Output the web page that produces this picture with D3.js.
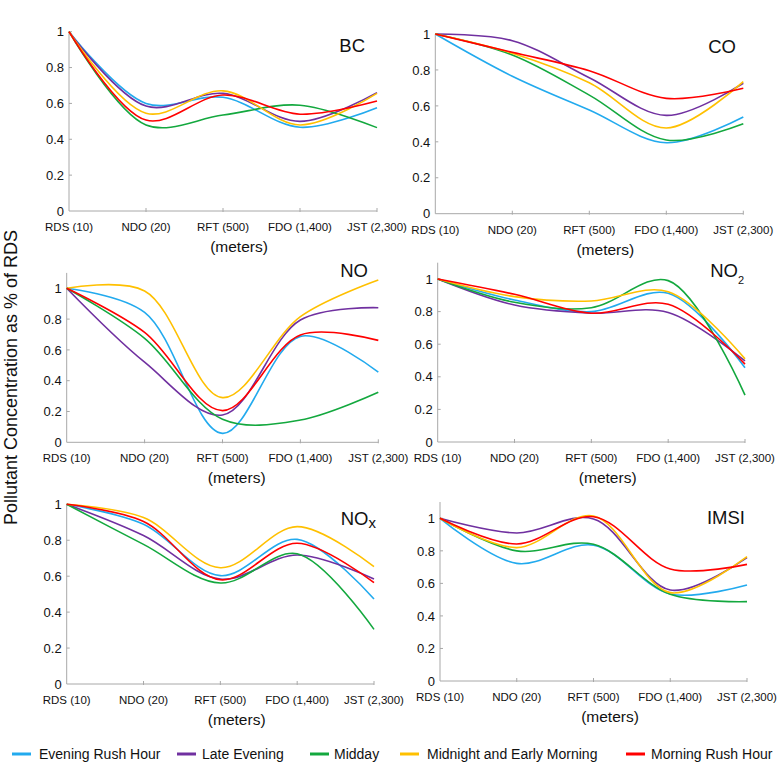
<!DOCTYPE html>
<html>
<head>
<meta charset="utf-8">
<script src="https://cdn.jsdelivr.net/npm/d3@7"></script>
<style>
  html, body { margin: 0; padding: 0; background: #fff; }
  svg { display: block; }
  text { font-family: "Liberation Sans", Arial, Helvetica, sans-serif; fill: #111; }
</style>
</head>
<body>
<svg id="chart" width="782" height="765"></svg>
<script>
// ---------------- DATA ----------------
const categories = ["RDS (10)", "NDO (20)", "RFT (500)", "FDO (1,400)", "JST (2,300)"];
const seriesNames = ["Evening Rush Hour", "Late Evening", "Midday", "Midnight and Early Morning", "Morning Rush Hour"];
const yTickValues = [0, 0.2, 0.4, 0.6, 0.8, 1];
const yTickLabels = ["0", "0.2", "0.4", "0.6", "0.8", "1"];
const xAxisTitle = "(meters)";
const yAxisTitle = "Pollutant Concentration as % of RDS";

// series order: Evening Rush Hour, Late Evening, Midday, Midnight and Early Morning, Morning Rush Hour
const bcValues = [
  [1, 0.600, 0.634, 0.467, 0.576],
  [1, 0.585, 0.656, 0.500, 0.660],
  [1, 0.480, 0.535, 0.590, 0.465],
  [1, 0.545, 0.670, 0.480, 0.656],
  [1, 0.507, 0.647, 0.540, 0.613]
];
const coValues = [
  [1, 0.765, 0.577, 0.395, 0.538],
  [1, 0.963, 0.757, 0.547, 0.726],
  [1, 0.883, 0.660, 0.410, 0.500],
  [1, 0.893, 0.729, 0.477, 0.735],
  [1, 0.898, 0.796, 0.642, 0.698]
];
const noValues = [
  [1, 0.844, 0.058, 0.688, 0.455],
  [1, 0.520, 0.177, 0.794, 0.874],
  [1, 0.675, 0.150, 0.145, 0.325],
  [1, 0.983, 0.290, 0.816, 1.054],
  [1, 0.714, 0.206, 0.697, 0.662]
];
const no2Values = [
  [1, 0.871, 0.800, 0.912, 0.456],
  [1, 0.840, 0.790, 0.795, 0.497],
  [1, 0.857, 0.824, 0.990, 0.288],
  [1, 0.892, 0.865, 0.922, 0.510],
  [1, 0.906, 0.790, 0.845, 0.478]
];
const noxValues = [
  [1, 0.889, 0.603, 0.805, 0.473],
  [1, 0.826, 0.584, 0.718, 0.584],
  [1, 0.777, 0.562, 0.725, 0.304],
  [1, 0.926, 0.647, 0.876, 0.653],
  [1, 0.904, 0.580, 0.783, 0.564]
];
const imsiValues = [
  [1, 0.723, 0.835, 0.535, 0.590],
  [1, 0.910, 0.996, 0.559, 0.758],
  [1, 0.800, 0.840, 0.533, 0.488],
  [1, 0.820, 1.014, 0.543, 0.764],
  [1, 0.842, 1.010, 0.689, 0.717]
];

// ---------------- STYLE / LAYOUT ----------------
const colors = ["#22aaee", "#7030a0", "#13a83e", "#ffc000", "#ff0000"];

const panels = [
  { title: "BC", sub: null, values: bcValues,
    x0: 69, x1: 377, yZero: 211, yOne: 31.7, yMax: 1.0, titleX: 365, titleY: 52 },
  { title: "CO", sub: null, values: coValues,
    x0: 435.3, x1: 743.3, yZero: 213.7, yOne: 34, yMax: 1.0, titleX: 736, titleY: 52.5 },
  { title: "NO", sub: null, values: noValues,
    x0: 66.7, x1: 378.3, yZero: 442.3, yOne: 288.3, yMax: 1.1, titleX: 368, titleY: 276.7 },
  { title: "NO", sub: "2", values: no2Values,
    x0: 437.7, x1: 745, yZero: 442, yOne: 279, yMax: 1.1, titleX: 744, titleY: 276.7 },
  { title: "NO", sub: "x", values: noxValues,
    x0: 66.7, x1: 374, yZero: 684, yOne: 504.3, yMax: 1.0, titleX: 376, titleY: 525 },
  { title: "IMSI", sub: null, values: imsiValues,
    x0: 440, x1: 747, yZero: 681, yOne: 518.3, yMax: 1.1, titleX: 745, titleY: 524.3 }
];

const svg = d3.select("#chart");
const axisColor = "#a8a8a8";

panels.forEach(p => {
  const x = d3.scalePoint().domain(categories).range([p.x0, p.x1]);
  const y = d3.scaleLinear().domain([0, 1]).range([p.yZero, p.yOne]);
  const g = svg.append("g");

  // axes lines
  g.append("line").attr("x1", p.x0).attr("x2", p.x0)
    .attr("y1", y(0)).attr("y2", y(p.yMax))
    .attr("stroke", axisColor).attr("stroke-width", 1);
  g.append("line").attr("x1", p.x0).attr("x2", p.x1)
    .attr("y1", y(0)).attr("y2", y(0))
    .attr("stroke", axisColor).attr("stroke-width", 1);

  // x ticks (inward) and labels
  categories.forEach((c, i) => {
    if (i > 0) {
      g.append("line").attr("x1", x(c)).attr("x2", x(c))
        .attr("y1", y(0) - 3).attr("y2", y(0) + 1)
        .attr("stroke", axisColor).attr("stroke-width", 1);
    }
    g.append("text").attr("x", x(c)).attr("y", y(0) + 20)
      .attr("text-anchor", "middle").attr("font-size", "11.5px").text(c);
  });

  // y ticks and labels
  yTickValues.forEach((v, i) => {
    if (v > 0) {
      g.append("line").attr("x1", p.x0).attr("x2", p.x0 + 3)
        .attr("y1", y(v)).attr("y2", y(v))
        .attr("stroke", axisColor).attr("stroke-width", 1);
    }
    g.append("text").attr("x", p.x0 - 5).attr("y", y(v))
      .attr("dy", "0.36em").attr("text-anchor", "end")
      .attr("font-size", "13px").text(yTickLabels[i]);
  });

  // x axis title
  g.append("text").attr("x", p.x0 + 170).attr("y", y(0) + 41)
    .attr("text-anchor", "middle").attr("font-size", "15.5px").text(xAxisTitle);

  // panel title
  const t = g.append("text").attr("x", p.titleX).attr("y", p.titleY)
    .attr("text-anchor", "end").attr("font-size", "18.5px");
  t.append("tspan").text(p.title);
  if (p.sub === "2") {
    t.append("tspan").attr("font-size", "11px").attr("dy", 7).text(p.sub);
  } else if (p.sub) {
    t.append("tspan").attr("font-size", "15px").attr("dy", 2.5).text(p.sub);
  }

  // lines
  const line = d3.line()
    .x((d, i) => x(categories[i]))
    .y(d => y(d))
    .curve(d3.curveCatmullRom.alpha(0.5));

  p.values.forEach((vals, si) => {
    g.append("path").datum(vals)
      .attr("d", line)
      .attr("fill", "none")
      .attr("stroke", colors[si])
      .attr("stroke-width", 1.6);
  });
});

// y axis title
svg.append("text")
  .attr("transform", "translate(16.5,377.5) rotate(-90)")
  .attr("text-anchor", "middle")
  .attr("font-size", "18px")
  .text(yAxisTitle);

// legend
const legendItems = [
  { name: seriesNames[0], sx: 12, tx: 39 },
  { name: seriesNames[1], sx: 177, tx: 202 },
  { name: seriesNames[2], sx: 310, tx: 334 },
  { name: seriesNames[3], sx: 400, tx: 427 },
  { name: seriesNames[4], sx: 626, tx: 651 }
];
const legendY = 754;
legendItems.forEach((it, i) => {
  svg.append("line").attr("x1", it.sx).attr("x2", it.sx + 19)
    .attr("y1", legendY).attr("y2", legendY)
    .attr("stroke", colors[i]).attr("stroke-width", 3);
  svg.append("text").attr("x", it.tx).attr("y", legendY)
    .attr("dy", "0.36em").attr("font-size", "14px").text(it.name);
});
</script>
</body>
</html>
